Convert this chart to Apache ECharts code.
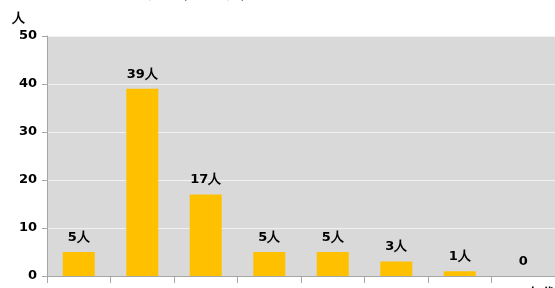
<!DOCTYPE html>
<html>
<head>
    <meta charset="utf-8" />
    <title>ECharts</title>
    <script src="https://cdn.jsdelivr.net/npm/echarts@6/dist/echarts.min.js"></script>
</head>
<body style="margin:0">
    <div id="main" style="width:555px;height:288px;"></div>
    <script type="text/javascript">
    // 数据
    var categories = ['10代', '20代', '30代', '40代', '50代', '60代', '70代', '80代以上'];
    var values = [5, 39, 17, 5, 5, 3, 1, 0];
    var yTicks = [0, 10, 20, 30, 40, 50];

    var myChart = echarts.init(document.getElementById('main'));
    var font = 'DejaVu Sans';

    var option = {
        animation: false,
        title: {
            text: '問1 回答者の年代別人数（単位：人）',
            left: 26,
            top: -16.5,
            textStyle: { fontFamily: font, fontSize: 13, fontWeight: 'bold', color: '#000' }
        },
        grid: {
            left: 47, right: 0, top: 36, bottom: 12,
            containLabel: false,
            outerBoundsMode: 'none',
            show: true,
            backgroundColor: '#d9d9d9',
            borderWidth: 0
        },
        xAxis: {
            type: 'category',
            data: categories,
            name: '年代',
            nameLocation: 'end',
            nameGap: 0,
            nameMoveOverlap: false,
            nameTextStyle: {
                fontFamily: font, fontSize: 13, fontWeight: 'bold', color: '#000',
                align: 'right', verticalAlign: 'top', padding: [11, 0, 0, 0]
            },
            axisLine: { show: true, lineStyle: { color: '#a6a6a6' } },
            axisTick: { show: true, length: 7, lineStyle: { color: '#a6a6a6' } },
            axisLabel: { interval: 0, margin: 18, fontFamily: font, fontSize: 13, fontWeight: 'bold', color: '#000' }
        },
        yAxis: {
            type: 'value',
            min: yTicks[0],
            max: yTicks[yTicks.length - 1],
            interval: 10,
            name: '人',
            nameLocation: 'end',
            nameGap: 11,
            nameTextStyle: {
                fontFamily: font, fontSize: 13, fontWeight: 'bold', color: '#000',
                align: 'right', padding: [0, 22, 0, 0]
            },
            axisLine: { show: true, lineStyle: { color: '#a6a6a6' } },
            axisTick: { show: true, length: 5, lineStyle: { color: '#a6a6a6' } },
            axisLabel: { margin: 10, fontFamily: font, fontSize: 13, fontWeight: 'bold', color: '#000' },
            splitLine: { lineStyle: { color: '#f2f2f2', width: 1 } }
        },
        series: [{
            type: 'bar',
            data: values,
            barWidth: 32,
            itemStyle: { color: '#ffc000' },
            label: {
                show: true,
                position: 'top',
                distance: 8,
                fontFamily: font,
                fontSize: 13,
                fontWeight: 'bold',
                color: '#000',
                formatter: function (p) {
                    return p.value === 0 ? '0' : p.value + '人';
                }
            }
        }]
    };

    myChart.setOption(option);
    </script>
</body>
</html>
